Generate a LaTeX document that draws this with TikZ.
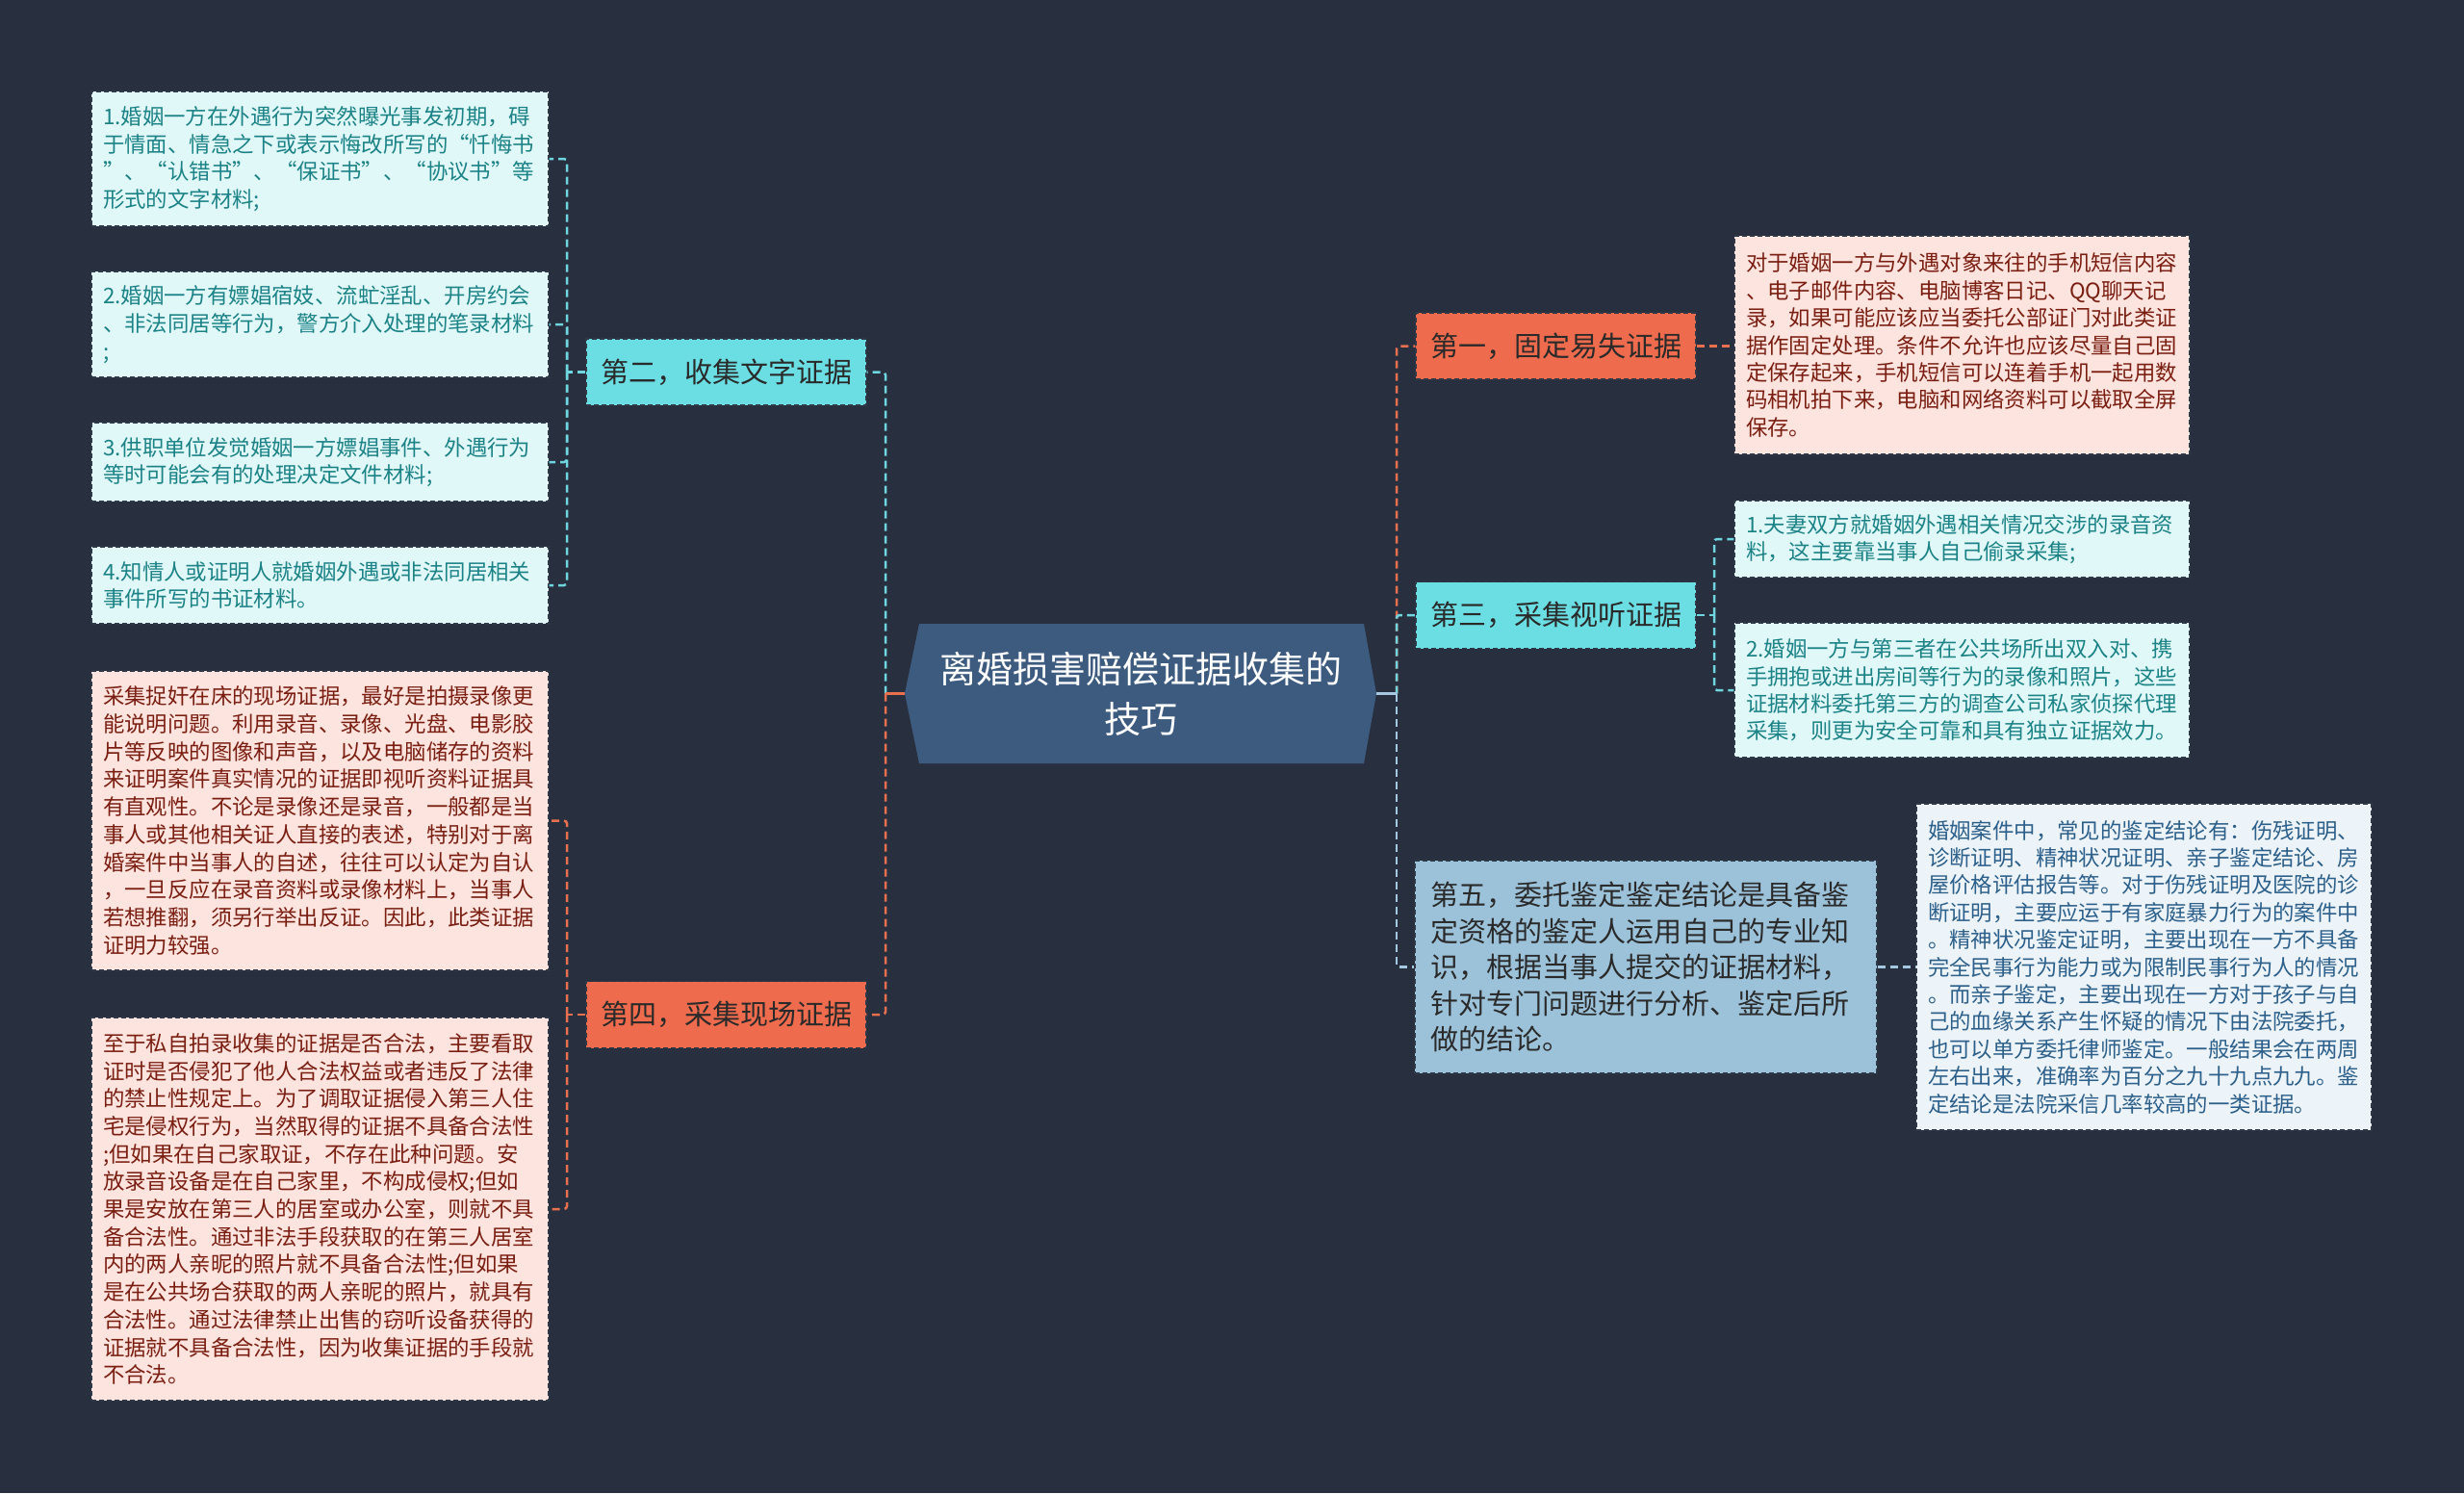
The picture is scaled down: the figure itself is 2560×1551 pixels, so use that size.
\documentclass[tikz,border=0pt]{standalone}
\usepackage{fontspec}
\setmainfont{Noto Sans CJK SC}
\definecolor{bg}{HTML}{28303F}
\definecolor{boxline}{HTML}{2F3847}
\definecolor{leafcfill}{HTML}{E1F8F9}
\definecolor{leafctext}{HTML}{1B8286}
\definecolor{leafpfill}{HTML}{FDE4DE}
\definecolor{leafptext}{HTML}{7A1E12}
\definecolor{leafbfill}{HTML}{EDF4F9}
\definecolor{leafbtext}{HTML}{2C5F8A}
\definecolor{coralfill}{HTML}{EE6B4D}
\definecolor{cyanfill}{HTML}{6ADEE3}
\definecolor{bluefill}{HTML}{9CC2DA}
\definecolor{centrefill}{HTML}{3D5B7F}
\definecolor{ccyan}{HTML}{6FD6DF}
\definecolor{ccoral}{HTML}{E8704F}
\definecolor{cblue}{HTML}{A3C8E0}
\definecolor{darktext}{HTML}{2A2A2A}
\tikzset{
  box/.style={draw=boxline, line width=1.2pt, dash pattern=on 5pt off 3pt, inner sep=0pt},
  leafc/.style={box, fill=leafcfill, text=leafctext, align=left,
    font=\fontsize{22.4}{28.7}\selectfont, text width=451pt, minimum width=475pt},
  leafp/.style={box, fill=leafpfill, text=leafptext, align=left,
    font=\fontsize{22.4}{28.7}\selectfont, text width=451pt, minimum width=475pt},
  leafr/.style={box, fill=#1, align=left,
    font=\fontsize{22.4}{28.4}\selectfont, text width=449pt, minimum width=473pt},
  topic/.style={box, fill=#1, text=darktext, align=center,
    font=\fontsize{29}{37.5}\selectfont, minimum width=291pt, minimum height=69pt},
  conn/.style={draw=#1, line width=2.5pt, dash pattern=on 8pt off 5pt, rounded corners=3pt},
  stub/.style={draw=#1, line width=3pt}
}
\begin{document}
\begin{tikzpicture}[x=1pt,y=-1pt]
\fill[bg] (0,0) rectangle (2560,1551);
\useasboundingbox (0,0) rectangle (2560,1551);

% centre
\fill[centrefill] (940,720.5) -- (955,648) -- (1417,648) -- (1430,720.5) -- (1417,793) -- (955,793) -- cycle;
\node[inner sep=0pt, minimum width=490pt, minimum height=145pt, align=center, text=white,
  font=\fontsize{38}{52}\selectfont] (C) at (1185,720.5) {离婚损害赔偿证据收集的\\技巧};

% left topics
\node[topic=cyanfill] (N2) at (754.5,386.5) {第二，收集文字证据};
\node[topic=coralfill] (N4) at (754.5,1054) {第四，采集现场证据};

% right topics
\node[topic=coralfill] (N1) at (1616.5,359.5) {第一，固定易失证据};
\node[topic=cyanfill] (N3) at (1616.5,639) {第三，采集视听证据};
\node[box, fill=bluefill, text=darktext, align=left, font=\fontsize{29}{37.5}\selectfont,
  text width=448pt, minimum width=480pt, minimum height=221pt] (N5) at (1710,1004.5)
  {第五，委托鉴定鉴定结论是具备鉴\\定资格的鉴定人运用自己的专业知\\识，根据当事人提交的证据材料，\\针对专门问题进行分析、鉴定后所\\做的结论。};

% left leaves
\node[leafc, minimum height=140pt] (L1) at (332.5,165)
  {1.婚姻一方在外遇行为突然曝光事发初期，碍\\于情面、情急之下或表示悔改所写的“忏悔书\\”、“认错书”、“保证书”、“协议书”等\\形式的文字材料;};
\node[leafc, minimum height=110pt] (L2) at (332.5,337)
  {2.婚姻一方有嫖娼宿妓、流虻淫乱、开房约会\\、非法同居等行为，警方介入处理的笔录材料\\;};
\node[leafc, minimum height=82pt] (L3) at (332.5,480)
  {3.供职单位发觉婚姻一方嫖娼事件、外遇行为\\等时可能会有的处理决定文件材料;};
\node[leafc, minimum height=80pt] (L4) at (332.5,608)
  {4.知情人或证明人就婚姻外遇或非法同居相关\\事件所写的书证材料。};
\node[leafp, minimum height=311pt] (L5) at (332.5,852.5)
  {采集捉奸在床的现场证据，最好是拍摄录像更\\能说明问题。利用录音、录像、光盘、电影胶\\片等反映的图像和声音，以及电脑储存的资料\\来证明案件真实情况的证据即视听资料证据具\\有直观性。不论是录像还是录音，一般都是当\\事人或其他相关证人直接的表述，特别对于离\\婚案件中当事人的自述，往往可以认定为自认\\，一旦反应在录音资料或录像材料上，当事人\\若想推翻，须另行举出反证。因此，此类证据\\证明力较强。};
\node[leafp, minimum height=398pt] (L6) at (332.5,1256)
  {至于私自拍录收集的证据是否合法，主要看取\\证时是否侵犯了他人合法权益或者违反了法律\\的禁止性规定上。为了调取证据侵入第三人住\\宅是侵权行为，当然取得的证据不具备合法性\\;但如果在自己家取证，不存在此种问题。安\\放录音设备是在自己家里，不构成侵权;但如\\果是安放在第三人的居室或办公室，则就不具\\备合法性。通过非法手段获取的在第三人居室\\内的两人亲昵的照片就不具备合法性;但如果\\是在公共场合获取的两人亲昵的照片，就具有\\合法性。通过法律禁止出售的窃听设备获得的\\证据就不具备合法性，因为收集证据的手段就\\不合法。};

% right leaves
\node[leafr=leafpfill, text=leafptext, minimum height=227pt] (R1) at (2038.5,358.5)
  {对于婚姻一方与外遇对象来往的手机短信内容\\、电子邮件内容、电脑博客日记、QQ聊天记\\录，如果可能应该应当委托公部证门对此类证\\据作固定处理。条件不允许也应该尽量自己固\\定保存起来，手机短信可以连着手机一起用数\\码相机拍下来，电脑和网络资料可以截取全屏\\保存。};
\node[leafr=leafcfill, text=leafctext, minimum height=80pt] (R3a) at (2038.5,560)
  {1.夫妻双方就婚姻外遇相关情况交涉的录音资\\料，这主要靠当事人自己偷录采集;};
\node[leafr=leafcfill, text=leafctext, minimum height=140pt] (R3b) at (2038.5,717)
  {2.婚姻一方与第三者在公共场所出双入对、携\\手拥抱或进出房间等行为的录像和照片，这些\\证据材料委托第三方的调查公司私家侦探代理\\采集，则更为安全可靠和具有独立证据效力。};
\node[leafr=leafbfill, text=leafbtext, minimum height=339pt] (R5) at (2227.5,1004.5)
  {婚姻案件中，常见的鉴定结论有：伤残证明、\\诊断证明、精神状况证明、亲子鉴定结论、房\\屋价格评估报告等。对于伤残证明及医院的诊\\断证明，主要应运于有家庭暴力行为的案件中\\。精神状况鉴定证明，主要出现在一方不具备\\完全民事行为能力或为限制民事行为人的情况\\。而亲子鉴定，主要出现在一方对于孩子与自\\己的血缘关系产生怀疑的情况下由法院委托，\\也可以单方委托律师鉴定。一般结果会在两周\\左右出来，准确率为百分之九十九点九九。鉴\\定结论是法院采信几率较高的一类证据。};

% joints
\coordinate (lj) at (920,720.5);
\coordinate (rj) at (1451,720.5);
\coordinate (j2) at (589,386.5);
\coordinate (j4) at (589,1054);
\coordinate (j3) at (1781,639);

% centre connectors
\draw[conn=ccyan] (lj) |- (N2.east);
\draw[conn=ccoral] (lj) |- (N4.east);
\draw[stub=ccoral] (C.west) -- (lj);
\draw[conn=ccoral] (rj) |- (N1.west);
\draw[conn=ccyan] (rj) |- (N3.west);
\draw[conn=cblue] (rj) |- (N5.west);
\draw[stub=cblue] (C.east) -- (rj);

% left leaf connectors
\draw[conn=ccyan] (N2.west) -- (j2);
\draw[conn=ccyan] (j2) |- (L1.east);
\draw[conn=ccyan] (j2) |- (L2.east);
\draw[conn=ccyan] (j2) |- (L3.east);
\draw[conn=ccyan] (j2) |- (L4.east);
\draw[conn=ccoral] (N4.west) -- (j4);
\draw[conn=ccoral] (j4) |- (L5.east);
\draw[conn=ccoral] (j4) |- (L6.east);

% right leaf connectors
\draw[conn=ccoral] (N1.east) -- (N1.east -| R1.west);
\draw[conn=ccyan] (N3.east) -- (j3);
\draw[conn=ccyan] (j3) |- (R3a.west);
\draw[conn=ccyan] (j3) |- (R3b.west);
\draw[conn=cblue] (N5.east) -- (N5.east -| R5.west);
\end{tikzpicture}
\end{document}
